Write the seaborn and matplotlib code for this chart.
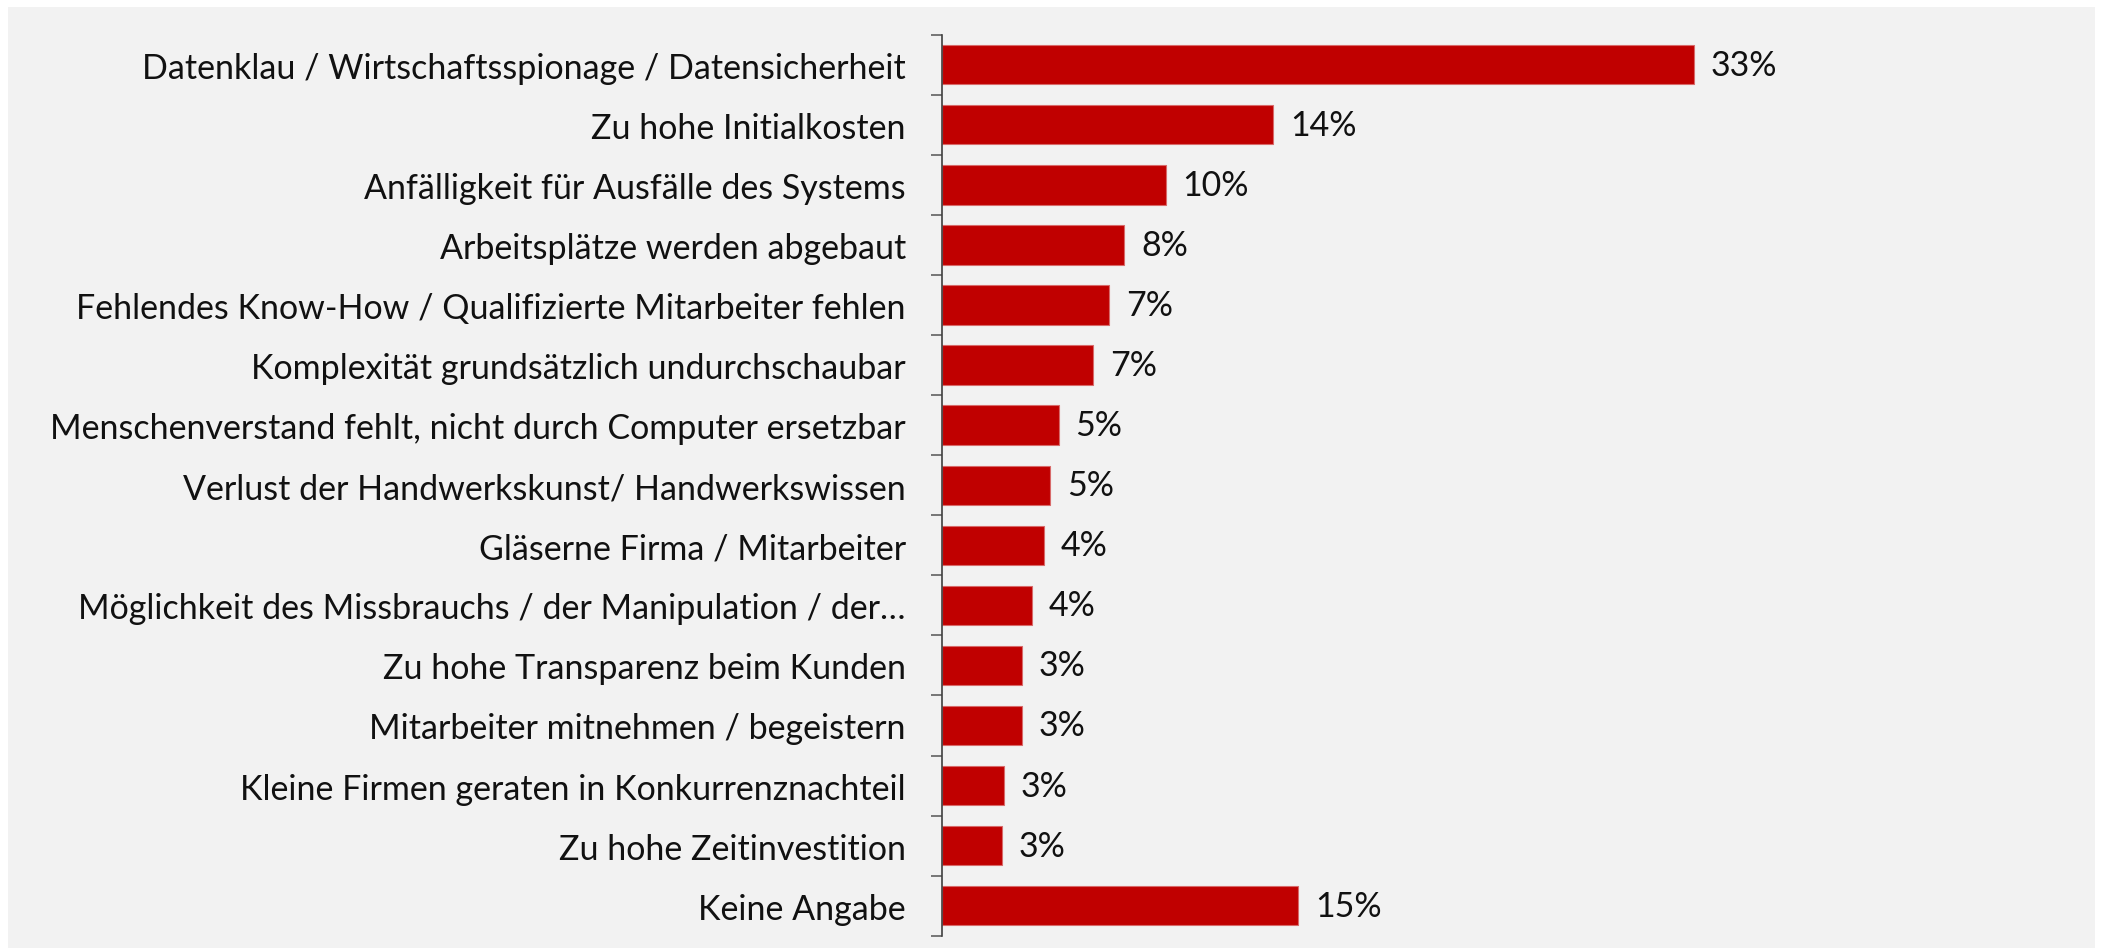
import numpy as np
import matplotlib
matplotlib.use("Agg")
import matplotlib.pyplot as plt
import seaborn as sns
from matplotlib.patches import Rectangle

categories = [
    "Datenklau / Wirtschaftsspionage / Datensicherheit",
    "Zu hohe Initialkosten",
    "Anfälligkeit für Ausfälle des Systems",
    "Arbeitsplätze werden abgebaut",
    "Fehlendes Know-How / Qualifizierte Mitarbeiter fehlen",
    "Komplexität grundsätzlich undurchschaubar",
    "Menschenverstand fehlt, nicht durch Computer ersetzbar",
    "Verlust der Handwerkskunst/ Handwerkswissen",
    "Gläserne Firma / Mitarbeiter",
    "Möglichkeit des Missbrauchs / der Manipulation / der…",
    "Zu hohe Transparenz beim Kunden",
    "Mitarbeiter mitnehmen / begeistern",
    "Kleine Firmen geraten in Konkurrenznachteil",
    "Zu hohe Zeitinvestition",
    "Keine Angabe",
]
shares = [32.6, 14.35, 9.7, 7.9, 7.25, 6.55, 5.05, 4.7, 4.4, 3.9, 3.45, 3.45, 2.7, 2.6, 15.45]
value_labels = ["33%", "14%", "10%", "8%", "7%", "7%", "5%", "5%", "4%", "4%",
                "3%", "3%", "3%", "3%", "15%"]

RED = "#C00000"
PAPER = "#F2F2F2"
INK = "#111111"

sns.set_theme(style="white")
plt.rcParams["font.family"] = ["Lato", "DejaVu Sans"]

W, H = 2105, 953
fig = plt.figure(figsize=(W / 100, H / 100), dpi=100, facecolor="white")
fig.patches.append(Rectangle((8 / W, 4 / H), (W - 18) / W, (H - 12) / H,
                             transform=fig.transFigure, facecolor=PAPER,
                             edgecolor="none", zorder=-10))

left, right = 942, 2080
top, bottom = 35.7, 936.7
ax = fig.add_axes([left / W, (H - bottom) / H, (right - left) / W, (bottom - top) / H])
ax.set_facecolor("none")

sns.barplot(x=shares, y=categories, orient="h", color=RED, width=0.655,
            edgecolor="#D86A6A", linewidth=0.8, saturation=1, ax=ax)

ax.set_xlim(0, (right - left) / 23.07)
ax.set_ylim(14.5, -0.5)
ax.set_xticks([])
ax.set_xlabel("")
ax.set_ylabel("")

for side in ["top", "right", "bottom"]:
    ax.spines[side].set_visible(False)
ax.spines["left"].set_color("#404040")
ax.spines["left"].set_linewidth(1.2)

ax.set_yticks(np.arange(-0.5, len(categories), 1))
ax.set_yticklabels([])
ax.tick_params(axis="y", which="major", direction="out", length=8, width=1.1,
               color="#555555", left=True)
ax.set_yticks(np.arange(len(categories)), minor=True)
ax.set_yticklabels(categories, minor=True)
ax.tick_params(axis="y", which="minor", length=0, pad=26, labelsize=24.5,
               labelcolor=INK)

ax.bar_label(ax.containers[0], labels=value_labels, padding=12, fontsize=24.5,
             color=INK)

fig.savefig("out.png", dpi=100, facecolor="white")
